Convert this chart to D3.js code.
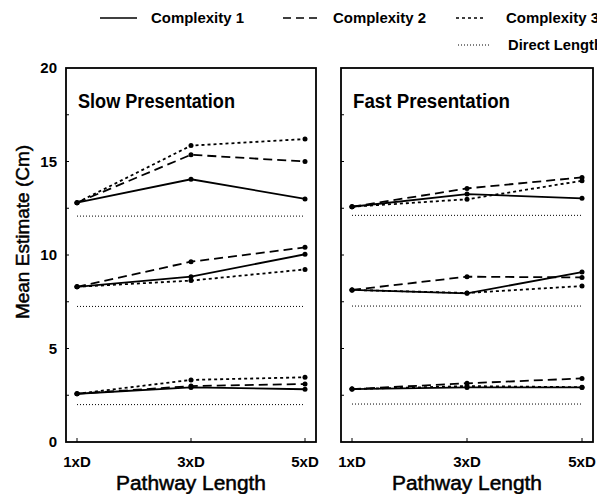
<!DOCTYPE html>
<html>
<head>
<meta charset="utf-8">
<script src="https://cdn.jsdelivr.net/npm/d3@7"></script>
<style>
  body { margin: 0; background: #fff; }
  text { font-family: "Liberation Sans", Arial, sans-serif; fill: #000; }
</style>
</head>
<body>
<svg id="chart" width="597" height="494"></svg>
<script>
// pathway lengths on the x axis
var lengths = ["1xD", "3xD", "5xD"];
var yTicks = [0, 5, 10, 15, 20];
var series = ["Complexity 1", "Complexity 2", "Complexity 3"];

// slow presentation, one row per direct-length level (top, middle, bottom)
var slowC1 = [[12.8, 14.05, 13.0], [8.3, 8.84, 10.04], [2.58, 2.92, 2.82]];
var slowC2 = [[12.8, 15.36, 15.0], [8.3, 9.64, 10.41], [2.58, 2.99, 3.1]];
var slowC3 = [[12.8, 15.85, 16.2], [8.3, 8.63, 9.23], [2.58, 3.32, 3.46]];
var slowDirect = [12.08, 7.25, 2.0];

// fast presentation
var fastC1 = [[12.58, 13.26, 13.03], [8.13, 7.95, 9.09], [2.83, 2.92, 2.92]];
var fastC2 = [[12.58, 13.56, 14.15], [8.13, 8.84, 8.8], [2.83, 3.14, 3.4]];
var fastC3 = [[12.58, 12.98, 13.97], [8.13, 7.97, 8.34], [2.83, 2.99, 2.93]];
var fastDirect = [12.12, 7.27, 2.03];

var dashes = ["none", "9,5", "3,3"];

var svg = d3.select("#chart");

var y = d3.scaleLinear().domain([0, 20]).range([442, 68]);

var panels = [
  {title: "Slow Presentation", x0: 66, x1: 316, data: [slowC1, slowC2, slowC3], direct: slowDirect, labels: true},
  {title: "Fast Presentation", x0: 341, x1: 593, data: [fastC1, fastC2, fastC3], direct: fastDirect, labels: false}
];

panels.forEach(function(p){
  var x = d3.scalePoint().domain(lengths).range([p.x0 + 11, p.x1 - 11]);
  var g = svg.append("g");

  // frame
  g.append("rect")
    .attr("x", p.x0).attr("y", y(20))
    .attr("width", p.x1 - p.x0).attr("height", y(0) - y(20))
    .attr("fill", "none").attr("stroke", "#000").attr("stroke-width", 1.8);

  // y ticks every 2.5, inward
  g.selectAll(".yt").data(d3.range(2.5, 20, 2.5)).enter().append("line")
    .attr("x1", p.x0).attr("x2", p.x0 + 3)
    .attr("y1", function(d){ return y(d); }).attr("y2", function(d){ return y(d); })
    .attr("stroke", "#000").attr("stroke-width", 1);

  // x ticks inward
  g.selectAll(".xt").data(lengths).enter().append("line")
    .attr("x1", function(d){ return x(d); }).attr("x2", function(d){ return x(d); })
    .attr("y1", y(0)).attr("y2", y(0) - 4)
    .attr("stroke", "#000").attr("stroke-width", 1);

  g.selectAll(".xl").data(lengths).enter().append("text")
    .attr("x", function(d){ return x(d); }).attr("y", 467)
    .attr("text-anchor", "middle").attr("font-size", 15).attr("font-weight", "bold")
    .text(function(d){ return d; });

  if (p.labels) {
    g.selectAll(".yl").data(yTicks).enter().append("text")
      .attr("x", 57).attr("y", function(d){ return y(d) + 5; })
      .attr("text-anchor", "end").attr("font-size", 15).attr("font-weight", "bold")
      .text(function(d){ return d; });
  }

  g.append("text")
    .attr("x", p.x0 + 12).attr("y", 108)
    .attr("font-size", 20).attr("font-weight", "bold")
    .attr("textLength", 157).attr("lengthAdjust", "spacingAndGlyphs")
    .text(p.title);

  g.append("text")
    .attr("x", (p.x0 + p.x1) / 2).attr("y", 490)
    .attr("text-anchor", "middle").attr("font-size", 20)
    .attr("stroke", "#000").attr("stroke-width", 0.5)
    .attr("textLength", 150).attr("lengthAdjust", "spacingAndGlyphs")
    .text("Pathway Length");

  // direct length reference lines
  g.selectAll(".direct").data(p.direct).enter().append("line")
    .attr("x1", x(lengths[0])).attr("x2", x(lengths[2]))
    .attr("y1", function(d){ return y(d); }).attr("y2", function(d){ return y(d); })
    .attr("stroke", "#000").attr("stroke-width", 1).attr("stroke-dasharray", "1,2");

  var line = d3.line()
    .x(function(d, i){ return x(lengths[i]); })
    .y(function(d){ return y(d); });

  p.data.forEach(function(groups, s){
    groups.forEach(function(vals){
      g.append("path")
        .attr("d", line(vals))
        .attr("fill", "none").attr("stroke", "#000").attr("stroke-width", 1.8)
        .attr("stroke-dasharray", dashes[s]);
      g.selectAll(null).data(vals).enter().append("circle")
        .attr("cx", function(d, i){ return x(lengths[i]); })
        .attr("cy", function(d){ return y(d); })
        .attr("r", 2.5).attr("fill", "#000");
    });
  });
});

// y axis title
svg.append("text")
  .attr("transform", "translate(29,232) rotate(-90)")
  .attr("text-anchor", "middle").attr("font-size", 19)
  .attr("stroke", "#000").attr("stroke-width", 0.5)
  .text("Mean Estimate (Cm)");

// legend
var legX = [100, 283, 456];
var legTextX = [151, 333, 506];
series.forEach(function(s, i){
  svg.append("line")
    .attr("x1", legX[i]).attr("x2", legX[i] + (i == 2 ? 29 : 37))
    .attr("y1", 18).attr("y2", 18)
    .attr("stroke", "#000").attr("stroke-width", 1.6)
    .attr("stroke-dasharray", i == 1 ? "8,5" : dashes[i]);
  svg.append("text")
    .attr("x", legTextX[i]).attr("y", 23)
    .attr("font-size", 15).attr("font-weight", "bold")
    .attr("textLength", 93).attr("lengthAdjust", "spacingAndGlyphs")
    .text(s);
});
svg.append("line")
  .attr("x1", 458).attr("x2", 490).attr("y1", 45).attr("y2", 45)
  .attr("stroke", "#000").attr("stroke-width", 1).attr("stroke-dasharray", "1,2");
svg.append("text")
  .attr("x", 508).attr("y", 50)
  .attr("font-size", 15).attr("font-weight", "bold")
  .attr("textLength", 95).attr("lengthAdjust", "spacingAndGlyphs")
  .text("Direct Length");
</script>
</body>
</html>
